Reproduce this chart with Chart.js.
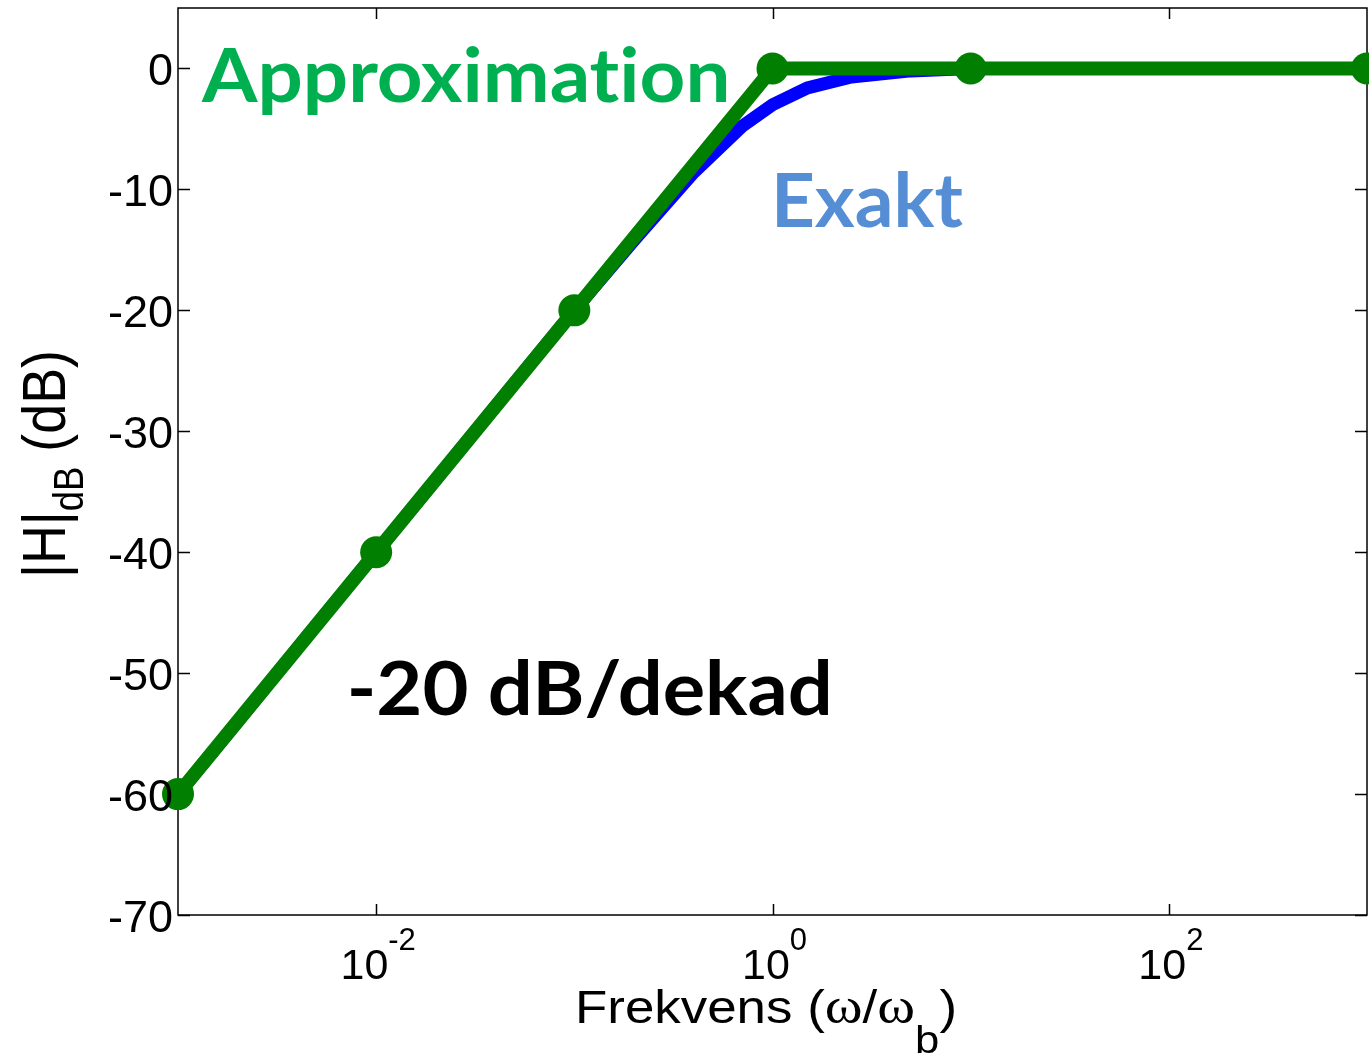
<!DOCTYPE html>
<html>
<head>
<meta charset="utf-8">
<script src="https://cdn.jsdelivr.net/npm/chart.js@4/dist/chart.umd.min.js"></script>
<style>
  html, body { margin: 0; padding: 0; background: #fff; }
  #bode { display: block; }
</style>
</head>
<body>
<canvas id="bode" width="1369" height="1057"></canvas>
<script>
// Bode magnitude plot - exact vs. asymptotic approximation

// Exact curve
const exactFreq = [0.001, 0.002, 0.005, 0.01, 0.02, 0.05, 0.1, 0.2, 0.4, 0.7, 1, 1.5, 2.5, 5, 10, 100, 1000];
const exactDb   = [-60, -54, -46, -40, -34, -26, -20, -14.2, -8.6, -4.8, -3.0, -1.6, -0.7, -0.2, 0, 0, 0];

// Straight-line approximation with markers
const approxFreq = [0.001, 0.01, 0.1, 1, 10, 1000];
const approxDb   = [-60, -40, -20, 0, 0, 0];

// Axis ticks
const xTickValues = [0.01, 1, 100];
const xTickExponents = ['-2', '0', '2'];
const yTickValues = [0, -10, -20, -30, -40, -50, -60, -70];

const COLORS = {
  exact: '#0000FF',
  approx: '#007F00',
  approxLabel: '#00B050',
  exactLabel: '#558ED5',
  axis: '#000000'
};

const SANS = '"Liberation Sans", Arial, sans-serif';
const SERIF = '"Liberation Serif", "Times New Roman", serif';
const LABEL_FONT = 'Lato, "Open Sans", sans-serif';

// Draw a run of text pieces (font / vertical offset per piece),
// optionally squeezed/stretched to a given total width
function drawRich(ctx, x, y, pieces, align, width) {
  let total = 0;
  pieces.forEach(p => {
    ctx.font = p.font;
    p.w = ctx.measureText(p.t).width;
    total += p.w;
  });
  const sx = width ? width / total : 1;
  const full = total * sx;
  const start = align === 'center' ? x - full / 2 : (align === 'right' ? x - full : x);
  ctx.save();
  ctx.translate(start, y);
  ctx.scale(sx, 1);
  ctx.textAlign = 'left';
  ctx.textBaseline = 'alphabetic';
  let cx = 0;
  pieces.forEach(p => {
    ctx.font = p.font;
    ctx.fillText(p.t, cx, p.dy || 0);
    cx += p.w;
  });
  ctx.restore();
}

// Single label whose ink spans exactly [left, left + inkWidth]
function fitText(ctx, text, left, baseline, font, inkWidth) {
  ctx.save();
  ctx.font = font;
  ctx.textAlign = 'left';
  ctx.textBaseline = 'alphabetic';
  const m = ctx.measureText(text);
  const w = m.actualBoundingBoxLeft + m.actualBoundingBoxRight;
  ctx.translate(left, baseline);
  ctx.scale(inkWidth / w, 1);
  ctx.fillText(text, m.actualBoundingBoxLeft, 0);
  ctx.restore();
}

// Box, inward ticks and axis text (MATLAB style)
const axesPlugin = {
  id: 'matlabAxes',
  beforeDatasetsDraw(chart) {
    const ctx = chart.ctx;
    const a = chart.chartArea;
    const xs = chart.scales.x;
    const ys = chart.scales.y;
    ctx.save();
    ctx.strokeStyle = COLORS.axis;
    ctx.lineWidth = 1.5;
    ctx.strokeRect(a.left, a.top, a.right - a.left, a.bottom - a.top);

    ctx.beginPath();
    xTickValues.forEach(v => {
      const px = Math.round(xs.getPixelForValue(v)) + 0.5;
      ctx.moveTo(px, a.bottom); ctx.lineTo(px, a.bottom - 11);
      ctx.moveTo(px, a.top); ctx.lineTo(px, a.top + 11);
    });
    yTickValues.forEach(v => {
      const py = Math.round(ys.getPixelForValue(v)) + 0.5;
      ctx.moveTo(a.left, py); ctx.lineTo(a.left + 12, py);
      ctx.moveTo(a.right, py); ctx.lineTo(a.right - 12, py);
    });
    ctx.stroke();
    ctx.restore();
  },
  afterDatasetsDraw(chart) {
    const ctx = chart.ctx;
    const a = chart.chartArea;
    const xs = chart.scales.x;
    const ys = chart.scales.y;
    ctx.save();
    ctx.fillStyle = '#000';

    // y tick labels
    ctx.font = '45px ' + SANS;
    ctx.textAlign = 'right';
    ctx.textBaseline = 'alphabetic';
    yTickValues.forEach(v => {
      ctx.fillText(String(v), a.left - 5, ys.getPixelForValue(v) + 17);
    });

    // x tick labels 10^n
    xTickValues.forEach((v, i) => {
      drawRich(ctx, xs.getPixelForValue(v) + 2, a.bottom + 64, [
        { t: '10', font: '43px ' + SANS },
        { t: xTickExponents[i], font: '31px ' + SANS, dy: -29 }
      ], 'center');
    });

    // x title
    drawRich(ctx, 766, a.bottom + 108, [
      { t: 'Frekvens (', font: '46px ' + SANS },
      { t: 'ω', font: '50px ' + SERIF },
      { t: '/', font: '46px ' + SANS },
      { t: 'ω', font: '50px ' + SERIF },
      { t: 'b', font: '38px ' + SANS, dy: 30 },
      { t: ')', font: '46px ' + SANS }
    ], 'center', 382);

    // y title (rotated)
    ctx.save();
    ctx.translate(65, 464);
    ctx.rotate(-Math.PI / 2);
    drawRich(ctx, 0, 0, [
      { t: '|H|', font: '62px ' + SANS },
      { t: 'dB', font: '42px ' + SANS, dy: 18 },
      { t: ' (dB)', font: '62px ' + SANS }
    ], 'center', 228);
    ctx.restore();

    // annotations
    const big = 'bold 75px ' + LABEL_FONT;
    ctx.fillStyle = COLORS.approxLabel;
    fitText(ctx, 'Approximat\u200Cion', 201, 102, big, 526);
    ctx.fillStyle = COLORS.exactLabel;
    fitText(ctx, 'Exakt', 777, 227, big, 186);
    ctx.fillStyle = '#000';
    fitText(ctx, '-20 dB/dekad', 351, 715, big, 477);
    ctx.restore();
  }
};

new Chart(document.getElementById('bode').getContext('2d'), {
  type: 'line',
  data: {
    datasets: [
      {
        label: 'Approximation',
        data: approxFreq.map((f, i) => ({ x: f, y: approxDb[i] })),
        borderColor: COLORS.approx,
        backgroundColor: COLORS.approx,
        borderWidth: 14,
        pointRadius: 16,
        pointBorderWidth: 0,
        pointBackgroundColor: COLORS.approx,
        tension: 0,
        clip: false,
        order: 0
      },
      {
        label: 'Exakt',
        data: exactFreq.map((f, i) => ({ x: f, y: exactDb[i] })),
        borderColor: COLORS.exact,
        borderWidth: 13,
        pointRadius: 0,
        tension: 0,
        clip: false,
        order: 1
      }
    ]
  },
  options: {
    responsive: false,
    devicePixelRatio: 1,
    animation: false,
    layout: { autoPadding: false, padding: { left: 178, top: 8, right: 2, bottom: 142 } },
    plugins: { legend: { display: false }, tooltip: { enabled: false } },
    scales: {
      x: { type: 'logarithmic', min: 0.001, max: 1000, display: false },
      y: { type: 'linear', min: -70, max: 5, display: false }
    }
  },
  plugins: [axesPlugin]
});
</script>
</body>
</html>
